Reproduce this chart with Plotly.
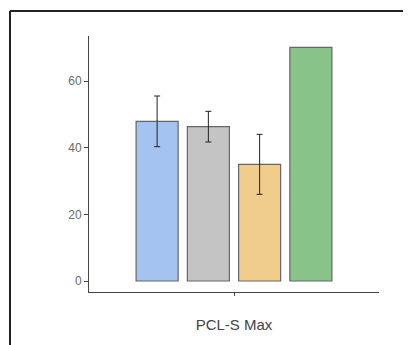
import plotly.graph_objects as go

category = ["PCL-S Max"]
series_names = ["Group A", "Group B", "Group C", "Group D"]
means = [47.9, 46.3, 35.0, 70.1]
errors = [7.6, 4.6, 9.0, None]
colors = ["#A4C3F0", "#C4C4C4", "#F0CD8C", "#88C48A"]
y_ticks = [0, 20, 40, 60]

fig = go.Figure()
for name, m, e, c in zip(series_names, means, errors, colors):
    fig.add_trace(go.Bar(
        x=category, y=[m], name=name,
        marker=dict(color=c, line=dict(color="#666666", width=1.2)),
        error_y=dict(type="data", array=[e] if e is not None else [0],
                     visible=e is not None, color="#222222", thickness=1, width=3),
    ))

# page has an 8px body margin
W, H = 403, 337
l, r, t, b = 81, 32, 28, 53
pw, ph = W - l - r, H - t - b

fig.update_layout(
    width=W, height=H,
    margin=dict(l=l, r=r, t=t, b=b),
    paper_bgcolor="white", plot_bgcolor="white",
    showlegend=False, barmode="group", bargap=0.293, bargroupgap=0.18,
    font=dict(family="Liberation Sans, Arial, sans-serif", color="#555555"),
    shapes=[
        dict(type="line", xref="paper", yref="paper",
             x0=(2 - l) / pw, x1=(W + 10 - l) / pw,
             y0=1 + (t - 3) / ph, y1=1 + (t - 3) / ph,
             line=dict(color="#222222", width=2)),
        dict(type="line", xref="paper", yref="paper",
             x0=(2 - l) / pw, x1=(2 - l) / pw,
             y0=1 + (t - 3) / ph, y1=-(b + 10) / ph,
             line=dict(color="#222222", width=2)),
    ],
)
fig.update_yaxes(
    range=[-3.3, 73.5], tickvals=y_ticks, showgrid=False, zeroline=False,
    showline=True, linecolor="#444444", linewidth=1,
    ticks="outside", ticklen=4, tickcolor="#444444",
    tickfont=dict(size=12, color="#6a6a6a"),
)
fig.update_xaxes(
    showgrid=False, zeroline=False, showline=True, linecolor="#444444", linewidth=1,
    ticks="outside", ticklen=3, tickcolor="#444444", showticklabels=False,
    title=dict(text="PCL-S Max", font=dict(size=15, color="#444444"), standoff=24),
)

fig.write_html("out.html")
